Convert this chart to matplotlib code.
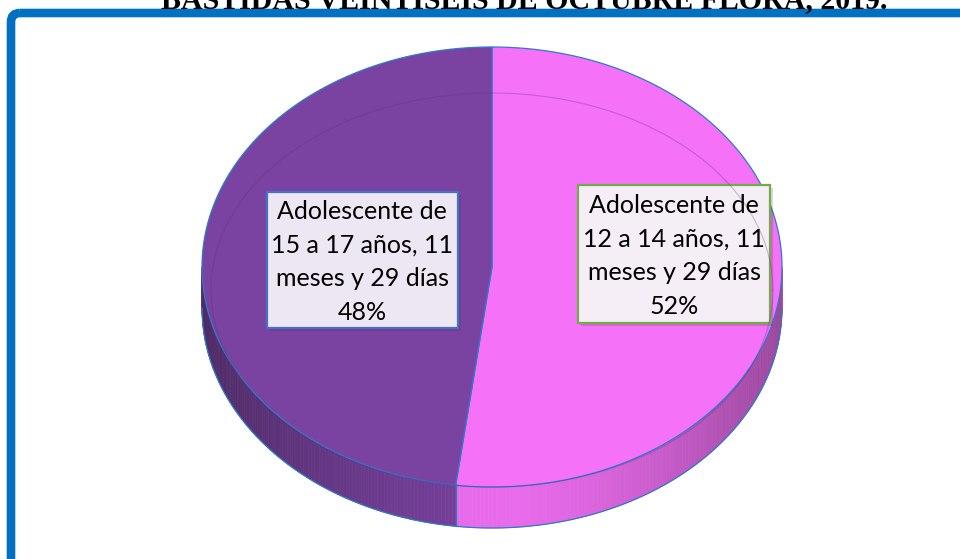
import numpy as np
import matplotlib.pyplot as plt
from matplotlib.patches import Polygon, Rectangle, FancyBboxPatch
from matplotlib.collections import PolyCollection
from matplotlib.colors import to_rgb

# data
categories = ["Adolescente de\n12 a 14 años, 11\nmeses y 29 días",
              "Adolescente de\n15 a 17 años, 11\nmeses y 29 días"]
percents = [52, 48]
top_colors = ['#F571F8', '#7B43A1']
box_faces = ['#F6EEF6', '#EDE7F3']
box_edges = ['#70AD47', '#4472C4']
title = "BASTIDAS VEINTISEIS DE OCTUBRE FLORA, 2019."

# pie geometry (pixels, y grows down)
cx, cy, a, b, depth = 492, 267, 290, 220, 41
edge_blue = '#2F7BC8'


def pt(theta, dy=0, aa=a, bb=b, ccy=cy):
    t = np.radians(theta)
    return np.column_stack([cx + aa * np.cos(t), ccy - bb * np.sin(t) + dy])


fig = plt.figure(figsize=(9.6, 5.59), dpi=100)
ax = fig.add_axes([0, 0, 1, 1])
ax.set_xlim(0, 960)
ax.set_ylim(559, 0)
ax.axis('off')

# blue frame
frame = FancyBboxPatch((11, 13), 1000, 600, boxstyle="round,pad=0,rounding_size=9",
                       fill=False, edgecolor='#0070C0', linewidth=6.2)
ax.add_patch(frame)

# title, cut off at the top like in the source image
ax.text(524, 8, title, ha='center', va='baseline', family='Liberation Serif',
        weight='bold', fontsize=21.5, color='black', clip_on=False)

# slice angles, starting at 12 o'clock and going clockwise
starts, ends = [], []
ang = 90.0
for p in percents:
    starts.append(ang)
    ang -= p / 100 * 360
    ends.append(ang)

# side wall (only the front half is visible)
for s, e, col in zip(starts, ends, top_colors):
    lo, hi = max(e, -180), min(s, 0)
    if lo >= hi:
        continue
    th = np.linspace(lo, hi, 120)
    top = pt(th)
    bot = pt(th, depth)
    rgb = np.array(to_rgb(col))
    quads, cols = [], []
    for i in range(len(th) - 1):
        quads.append([top[i], top[i + 1], bot[i + 1], bot[i]])
        m = np.radians((th[i] + th[i + 1]) / 2)
        shade = 0.95 - 0.32 * abs(np.cos(m)) ** 1.6
        cols.append(np.clip(rgb * shade, 0, 1))
    ax.add_collection(PolyCollection(quads, facecolors=cols, edgecolors=cols, linewidths=0.5))

# bottom edge of the wall and vertical split line
th = np.linspace(-180, 0, 200)
ax.plot(*pt(th, depth).T, color=edge_blue, lw=0.9)
sp = pt(np.array([ends[0]]))[0]
ax.plot([sp[0], sp[0]], [sp[1], sp[1] + depth], color=edge_blue, lw=0.9)

# top faces
for s, e, col in zip(starts, ends, top_colors):
    th = np.linspace(s, e, 300)
    verts = np.vstack([[cx, cy], pt(th)])
    ax.add_patch(Polygon(verts, closed=True, facecolor=col, edgecolor=edge_blue, lw=0.9))

# faint bevel ring on the top face
th = np.linspace(0, 360, 400)
ax.plot(*pt(th, 0, 281, 197, 290).T, color='#5A2A80', alpha=0.3, lw=0.8)

# labels
label_pos = [(674, 254), (362, 260)]
box_size = [(192, 138), (191, 136)]
for cat, p, (x, y), (w, h), fc, ec in zip(categories, percents, label_pos, box_size,
                                         box_faces, box_edges):
    ax.add_patch(Rectangle((x - w / 2 + 3, y - h / 2 + 3), w, h, facecolor='#303030',
                           alpha=0.18, edgecolor='none'))
    ax.add_patch(Rectangle((x - w / 2, y - h / 2), w, h, facecolor=fc, edgecolor=ec, lw=1.6))
    ax.text(x, y + 2, f"{cat}\n{p}%", ha='center', va='center', family='Lato',
            fontsize=18, linespacing=1.55, color='black')

fig.savefig('out.png', dpi=100)
